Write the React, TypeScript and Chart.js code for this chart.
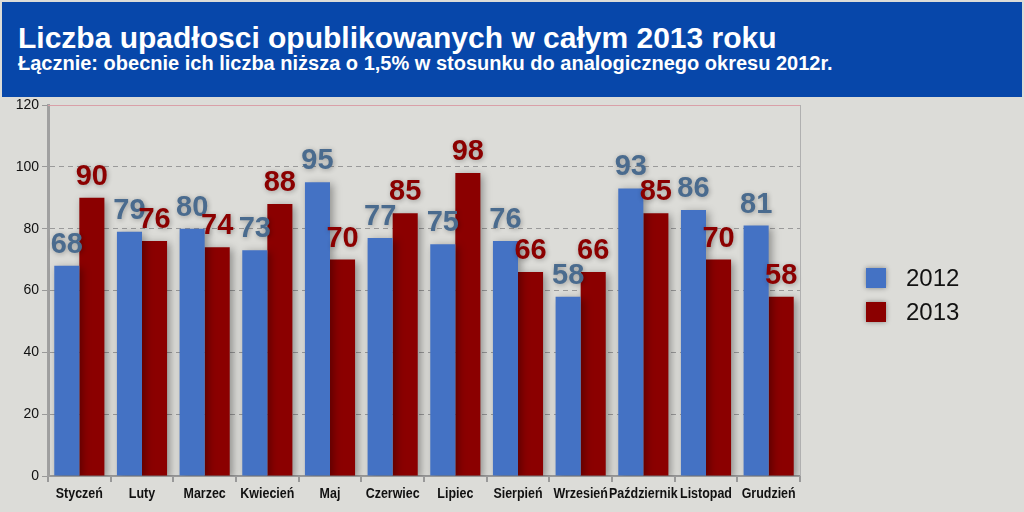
import React, { useEffect, useRef } from "react";
import { Chart, registerables } from "chart.js";

Chart.register(...registerables);

const months = ["Styczeń", "Luty", "Marzec", "Kwiecień", "Maj", "Czerwiec", "Lipiec", "Sierpień", "Wrzesień", "Październik", "Listopad", "Grudzień"];
const values2012 = [68, 79, 80, 73, 95, 77, 75, 76, 58, 93, 86, 81];
const values2013 = [90, 76, 74, 88, 70, 85, 98, 66, 66, 85, 70, 58];
const seriesNames = ["2012", "2013"];
const yTicks = [0, 20, 40, 60, 80, 100, 120];
const titleText = "Liczba upadłosci opublikowanych w całym 2013 roku";
const subtitleText = "Łącznie: obecnie ich liczba niższa o 1,5% w stosunku do analogicznego okresu 2012r.";

const BLUE = "#4472c4";
const RED = "#8b0000";
const LABEL_COLORS = ["#4a6b8e", "#8b0000"];

const shadowPlugin = {
  id: "barShadow",
  beforeDatasetsDraw(chart: any) {
    const ctx = chart.ctx;
    ctx.save();
    ctx.shadowColor = "rgba(0,0,0,0.35)";
    ctx.shadowBlur = 8;
    ctx.shadowOffsetX = 3;
    ctx.shadowOffsetY = 2;
  },
  afterDatasetsDraw(chart: any) {
    chart.ctx.restore();
  },
};

const framePlugin = {
  id: "frame",
  afterDraw(chart: any) {
    const { ctx, chartArea } = chart;
    ctx.save();
    ctx.strokeStyle = "#d9a0a8";
    ctx.lineWidth = 1;
    ctx.beginPath();
    ctx.moveTo(chartArea.left, chartArea.top + 0.5);
    ctx.lineTo(chartArea.right, chartArea.top + 0.5);
    ctx.stroke();
    ctx.strokeStyle = "#b0b0b0";
    ctx.beginPath();
    ctx.moveTo(chartArea.right + 0.5, chartArea.top);
    ctx.lineTo(chartArea.right + 0.5, chartArea.bottom);
    ctx.stroke();
    ctx.restore();
  },
};

const xLabelPlugin = {
  id: "xLabels",
  afterDraw(chart: any) {
    const ctx = chart.ctx;
    const xs = chart.scales.x;
    ctx.save();
    ctx.font = "bold 14px 'Liberation Sans', Arial, sans-serif";
    ctx.fillStyle = "#111";
    ctx.textAlign = "center";
    ctx.textBaseline = "middle";
    chart.data.labels.forEach((lab: string, i: number) => {
      const x = xs.getPixelForTick(i);
      ctx.save();
      ctx.translate(x, xs.top + 18);
      ctx.scale(0.89, 1);
      ctx.fillText(lab, 0, 0);
      ctx.restore();
    });
    ctx.restore();
  },
};

const labelPlugin = {
  id: "valueLabels",
  afterDatasetsDraw(chart: any) {
    const ctx = chart.ctx;
    ctx.save();
    ctx.font = "bold 29px 'Liberation Sans', Arial, sans-serif";
    ctx.textAlign = "center";
    ctx.textBaseline = "alphabetic";
    chart.data.datasets.forEach((ds: any, di: number) => {
      const meta = chart.getDatasetMeta(di);
      meta.data.forEach((bar: any, i: number) => {
        ctx.shadowColor = "rgba(0,0,0,0.3)";
        ctx.shadowBlur = 5;
        ctx.shadowOffsetX = 1;
        ctx.shadowOffsetY = 1;
        ctx.fillStyle = LABEL_COLORS[di];
        ctx.fillText(String(ds.data[i]), bar.x, bar.y - 13);
      });
    });
    ctx.restore();
  },
};

const legendPlugin = {
  id: "customLegend",
  afterDraw(chart: any) {
    const ctx = chart.ctx;
    ctx.save();
    chart.data.datasets.forEach((ds: any, di: number) => {
      const y = 268 + di * 34;
      ctx.shadowColor = "rgba(0,0,0,0.4)";
      ctx.shadowBlur = 5;
      ctx.fillStyle = ds.backgroundColor;
      ctx.fillRect(866, y, 20, 20);
      ctx.shadowBlur = 0;
      ctx.shadowColor = "transparent";
      ctx.fillStyle = "#111";
      ctx.font = "24px 'Liberation Sans', Arial, sans-serif";
      ctx.textBaseline = "middle";
      ctx.textAlign = "left";
      ctx.fillText(ds.label, 906, y + 11);
    });
    ctx.restore();
  },
};

export default function App() {
  const canvasRef = useRef<HTMLCanvasElement | null>(null);

  useEffect(() => {
    document.body.style.margin = "0";
    const chart = new Chart(canvasRef.current as HTMLCanvasElement, {
      type: "bar",
      data: {
        labels: months,
        datasets: [
          { label: seriesNames[0], data: values2012, backgroundColor: BLUE, borderWidth: 0 },
          { label: seriesNames[1], data: values2013, backgroundColor: RED, borderWidth: 0 },
        ],
      },
      options: {
        animation: false,
        responsive: false,
        maintainAspectRatio: false,
        layout: { padding: { top: 105, right: 224, left: 0, bottom: 0 } },
        datasets: { bar: { categoryPercentage: 0.8, barPercentage: 1 } },
        plugins: { legend: { display: false }, tooltip: { enabled: false }, title: { display: false } },
        scales: {
          x: {
            grid: { display: true, drawOnChartArea: false, offset: true, tickLength: 6, color: "#999", lineWidth: 2 },
            border: { display: true, color: "#999", width: 2 },
            ticks: { display: false, autoSkip: false },
            afterFit(scale: any) {
              scale.height = 36;
            },
          },
          y: {
            min: 0,
            max: 120,
            afterBuildTicks(scale: any) {
              scale.ticks = yTicks.map((v) => ({ value: v }));
            },
            grid: {
              color: (c: any) => (c.tick && (c.tick.value === 120 || c.tick.value === 0) ? "rgba(0,0,0,0)" : "#9a9a9a"),
              tickColor: "#999",
              tickLength: 6,
              lineWidth: 1,
            },
            border: { display: true, color: "#a0a0a0", width: 3, dash: [5, 4] },
            ticks: {
              color: "#111",
              font: { family: "'Liberation Sans', Arial, sans-serif", size: 14 },
              padding: 3,
            },
            afterFit(scale: any) {
              scale.width = 48;
            },
          },
        },
      },
      plugins: [shadowPlugin, labelPlugin, framePlugin, xLabelPlugin, legendPlugin],
    } as any);
    return () => chart.destroy();
  }, []);

  return (
    <div style={{ position: "relative", width: 1024, height: 512, background: "#dcdcd8", overflow: "hidden" }}>
      <canvas ref={canvasRef} width={1024} height={512} style={{ position: "absolute", left: 0, top: 0 }} />
      <div
        style={{
          position: "absolute",
          left: 2,
          top: 2,
          width: 1020,
          height: 95,
          background: "#0747aa",
          color: "#fff",
          fontFamily: "'Liberation Sans', Arial, sans-serif",
          fontWeight: "bold",
        }}
      >
        <div style={{ position: "absolute", left: 16, top: 21, fontSize: 30, lineHeight: "30px", whiteSpace: "nowrap" }}>{titleText}</div>
        <div style={{ position: "absolute", left: 16, top: 51, fontSize: 20, lineHeight: "20px", whiteSpace: "nowrap" }}>{subtitleText}</div>
      </div>
    </div>
  );
}
